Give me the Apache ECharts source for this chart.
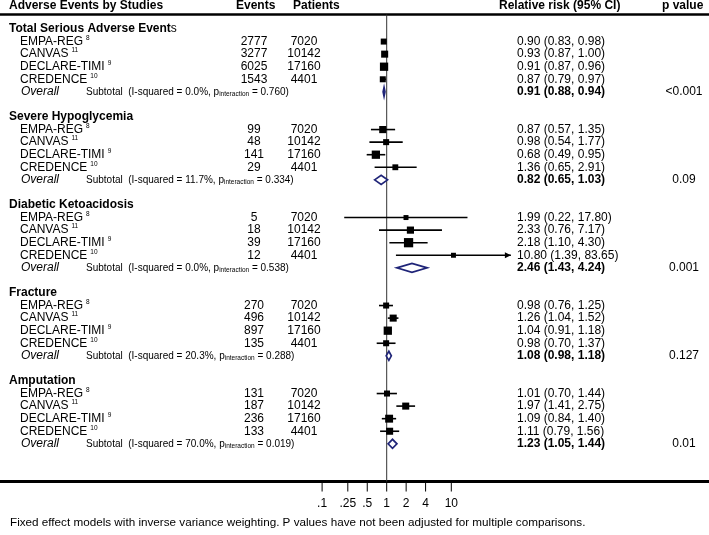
<!DOCTYPE html>
<html><head><meta charset="utf-8">
<script src="https://cdn.jsdelivr.net/npm/echarts@6/dist/echarts.min.js"></script>
<style>html,body{margin:0;padding:0;background:#fff}#c{width:709px;height:535px}</style>
</head><body><div id="c"></div>
<script>
// ---------------- DATA ----------------
const groupNames = ['Total Serious Adverse Events', 'Severe Hypoglycemia', 'Diabetic Ketoacidosis', 'Fracture', 'Amputation'];
const studyNames = ['EMPA-REG', 'CANVAS', 'DECLARE-TIMI', 'CREDENCE'];
const studyRefs = ['8', '11', '9', '10'];
const patients = [7020, 10142, 17160, 4401];
const events = [
  [2777, 3277, 6025, 1543],
  [99, 48, 141, 29],
  [5, 18, 39, 12],
  [270, 496, 897, 135],
  [131, 187, 236, 133]
];
const rr = [
  [0.90, 0.93, 0.91, 0.87],
  [0.87, 0.98, 0.68, 1.36],
  [1.99, 2.33, 2.18, 10.80],
  [0.98, 1.26, 1.04, 0.98],
  [1.01, 1.97, 1.09, 1.11]
];
const lower = [
  [0.83, 0.87, 0.87, 0.79],
  [0.57, 0.54, 0.49, 0.65],
  [0.22, 0.76, 1.10, 1.39],
  [0.76, 1.04, 0.91, 0.70],
  [0.70, 1.41, 0.84, 0.79]
];
const upper = [
  [0.98, 1.00, 0.96, 0.97],
  [1.35, 1.77, 0.95, 2.91],
  [17.80, 7.17, 4.30, 83.65],
  [1.25, 1.52, 1.18, 1.37],
  [1.44, 2.75, 1.40, 1.56]
];
// estimated relative study weights (%) within each subgroup
const weights = [
  [19, 26, 36, 19],
  [27, 19, 36, 18],
  [13, 27, 45, 13],
  [19, 26, 36, 19],
  [19, 26, 33, 26]
];
const overallRR = [0.91, 0.82, 2.46, 1.08, 1.23];
const overallLower = [0.88, 0.65, 1.43, 0.98, 1.05];
const overallUpper = [0.94, 1.03, 4.24, 1.18, 1.44];
const iSquared = ['0.0%', '11.7%', '0.0%', '20.3%', '70.0%'];
const pInteraction = ['0.760', '0.334', '0.538', '0.288', '0.019'];
const pValues = ['<0.001', '0.09', '0.001', '0.127', '0.01'];
const tickValues = [0.1, 0.25, 0.5, 1, 2, 4, 10];
const tickLabels = ['.1', '.25', '.5', '1', '2', '4', '10'];
const headers = ['Adverse Events by Studies', 'Events', 'Patients', 'Relative risk (95% CI)', 'p value'];
const footnote = 'Fixed effect models with inverse variance weighting. P values have not been adjusted for multiple comparisons.';

// ---------------- LAYOUT ----------------
const FONT = '"Liberation Sans", Arial, Helvetica, sans-serif';
const W = 709;
const ROW_H = 12.57, FIRST_ROW_Y = 29, Y_MIN = -2, Y_MAX = 36;
const ONE_X = 386.7, DECADE_PX = 64.6;
const ARROW_LIMIT = 50;
const NAVY = '#1f2478';
const fmt2 = v => v.toFixed(2);

const studyRows = [], overallRows = [], textRows = [];
textRows.push({kind: 'header', row: -1.83});
groupNames.forEach((g, gi) => {
  const base = gi * 7;
  textRows.push({kind: 'group', row: base, gi});
  studyNames.forEach((s, si) => {
    studyRows.push([rr[gi][si], lower[gi][si], upper[gi][si], base + 1 + si, weights[gi][si]]);
    textRows.push({kind: 'study', row: base + 1 + si, gi, si});
  });
  overallRows.push([overallRR[gi], overallLower[gi], overallUpper[gi], base + 5]);
  textRows.push({kind: 'overall', row: base + 5, gi});
});

function renderText(params, api) {
  const t = textRows[params.dataIndex];
  const y = api.coord([1, t.row])[1];
  const els = [];
  const txt = (x, text, o) => els.push({type: 'text', x: x, y: y, silent: true,
    style: Object.assign({text: text, fontFamily: FONT, fontSize: 12, fill: '#000', align: 'left', verticalAlign: 'middle'}, o || {})});
  if (t.kind === 'header') {
    const b = {fontWeight: 'bold'};
    txt(9, headers[0], b); txt(236, headers[1], b); txt(293, headers[2], b);
    txt(499, headers[3], b); txt(662, headers[4], b);
  } else if (t.kind === 'group') {
    const name = groupNames[t.gi];
    if (t.gi === 0) {
      txt(9, '{b|' + name.slice(0, -1) + '}{n|' + name.slice(-1) + '}', {rich: {
        b: {fontFamily: FONT, fontSize: 12, fontWeight: 'bold', fill: '#000'},
        n: {fontFamily: FONT, fontSize: 12, fill: '#000'}}});
    } else {
      txt(9, name, {fontWeight: 'bold'});
    }
  } else if (t.kind === 'study') {
    const gi = t.gi, si = t.si;
    txt(20, '{a|' + studyNames[si] + '}{s|' + studyRefs[si] + '}', {rich: {
      a: {fontFamily: FONT, fontSize: 12, lineHeight: 14, fill: '#000'},
      s: {fontFamily: FONT, fontSize: 6.5, verticalAlign: 'top', padding: [0, 0, 0, 3], fill: '#000'}}});
    txt(254, String(events[gi][si]), {align: 'center'});
    txt(304, String(patients[si]), {align: 'center'});
    txt(517, fmt2(rr[gi][si]) + ' (' + fmt2(lower[gi][si]) + ', ' + fmt2(upper[gi][si]) + ')');
  } else if (t.kind === 'overall') {
    const gi = t.gi;
    txt(21, 'Overall', {fontStyle: 'italic'});
    txt(86, '{m|Subtotal  (I-squared = ' + iSquared[gi] + ', p}{u|interaction}{m| = ' + pInteraction[gi] + ')}', {rich: {
      m: {fontFamily: FONT, fontSize: 10, lineHeight: 12, fill: '#000'},
      u: {fontFamily: FONT, fontSize: 6.5, verticalAlign: 'bottom', fill: '#000'}}});
    txt(517, fmt2(overallRR[gi]) + ' (' + fmt2(overallLower[gi]) + ', ' + fmt2(overallUpper[gi]) + ')', {fontWeight: 'bold'});
    txt(684, pValues[gi], {align: 'center'});
  }
  return {type: 'group', children: els};
}

function renderStudy(params, api) {
  const est = api.value(0), lo = api.value(1), hi = api.value(2), row = api.value(3), w = api.value(4);
  const c = api.coord([est, row]), pl = api.coord([lo, row]), ph = api.coord([hi, row]);
  const side = 1.38 * Math.sqrt(w);
  const children = [
    {type: 'line', shape: {x1: pl[0], y1: c[1], x2: ph[0], y2: c[1]}, style: {stroke: '#000', lineWidth: 1.6}},
    {type: 'rect', shape: {x: c[0] - side / 2, y: c[1] - side / 2, width: side, height: side}, style: {fill: '#000'}}
  ];
  if (hi > ARROW_LIMIT) {
    children.push({type: 'polygon', shape: {points: [[ph[0], c[1]], [ph[0] - 6, c[1] - 3], [ph[0] - 6, c[1] + 3]]}, style: {fill: '#000'}});
  }
  return {type: 'group', children: children};
}

function renderOverall(params, api) {
  const est = api.value(0), lo = api.value(1), hi = api.value(2), row = api.value(3);
  const c = api.coord([est, row]), pl = api.coord([lo, row]), ph = api.coord([hi, row]);
  const h = 4.5;
  return {type: 'polygon', shape: {points: [[pl[0], c[1]], [c[0], c[1] - h], [ph[0], c[1]], [c[0], c[1] + h]]},
    style: {fill: 'rgba(0,0,0,0)', stroke: NAVY, lineWidth: 1.7}};
}

function renderDecor(params, api) {
  const cs = params.coordSys;
  const yTop = api.coord([1, -1.15])[1];
  const yBot = api.coord([1, Y_MAX])[1];
  const x1 = api.coord([1, 0])[0];
  return {type: 'group', children: [
    {type: 'line', shape: {x1: cs.x, y1: yTop, x2: cs.x + cs.width, y2: yTop}, style: {stroke: '#000', lineWidth: 2.5}},
    {type: 'line', shape: {x1: x1, y1: yTop, x2: x1, y2: yBot}, style: {stroke: '#333', lineWidth: 1}}
  ]};
}

function renderTicks(params, api) {
  const v = api.value(0);
  const p = api.coord([v, Y_MAX]);
  return {type: 'group', children: [
    {type: 'line', shape: {x1: p[0], y1: p[1] + 1.5, x2: p[0], y2: p[1] + 10}, style: {stroke: '#000', lineWidth: 1}},
    {type: 'text', x: p[0], y: p[1] + 22, style: {text: tickLabels[params.dataIndex], fontFamily: FONT, fontSize: 12, fill: '#000', align: 'center', verticalAlign: 'middle'}}
  ]};
}

const gridTop = FIRST_ROW_Y + Y_MIN * ROW_H;
const gridH = (Y_MAX - Y_MIN) * ROW_H;

const chart = echarts.init(document.getElementById('c'), null, {renderer: 'canvas'});
chart.setOption({
  animation: false,
  backgroundColor: '#fff',
  title: {text: footnote, left: 10, top: 517, padding: 0, textStyle: {fontFamily: FONT, fontSize: 11.7, fontWeight: 'normal', color: '#000'}},
  grid: {left: 0, width: W, top: gridTop, height: gridH, containLabel: false},
  xAxis: {
    type: 'log', logBase: 10,
    min: Math.pow(10, -ONE_X / DECADE_PX),
    max: Math.pow(10, (W - ONE_X) / DECADE_PX),
    axisLine: {show: true, onZero: false, lineStyle: {color: '#000', width: 3}},
    axisTick: {show: false}, axisLabel: {show: false}, splitLine: {show: false}
  },
  yAxis: {type: 'value', inverse: true, min: Y_MIN, max: Y_MAX, show: false, splitLine: {show: false}},
  series: [
    {type: 'custom', renderItem: renderDecor, data: [[1, 0]], silent: true, z: 1},
    {type: 'custom', renderItem: renderStudy, data: studyRows, silent: true, z: 3},
    {type: 'custom', renderItem: renderOverall, data: overallRows, silent: true, z: 3},
    {type: 'custom', renderItem: renderText, data: textRows.map((t, i) => [1, t.row, i]), silent: true, z: 4},
    {type: 'custom', renderItem: renderTicks, data: tickValues.map(v => [v, Y_MAX]), silent: true, z: 4}
  ]
});
</script>
</body></html>
